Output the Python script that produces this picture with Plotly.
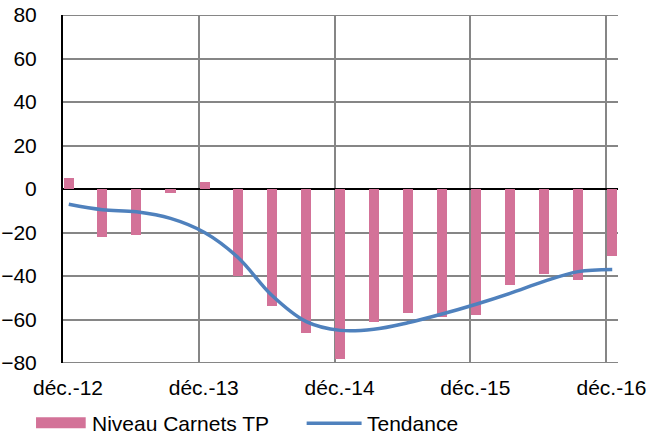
import plotly.graph_objects as go

# Quarterly observations (month of each quarter's last month)
periodes = ["2012-12-01", "2013-03-01", "2013-06-01", "2013-09-01",
            "2013-12-01", "2014-03-01", "2014-06-01", "2014-09-01",
            "2014-12-01", "2015-03-01", "2015-06-01", "2015-09-01",
            "2015-12-01", "2016-03-01", "2016-06-01", "2016-09-01",
            "2016-12-01"]
niveau_carnets_tp = [5, -22, -21, -2, 3, -40, -54, -66, -78, -61, -57, -59,
                     -58, -44, -39, -42, -31]
tendance = [-7, -9.5, -10.5, -13.5, -20, -31.5, -49, -61, -65, -64.5, -61.5,
            -57.5, -53, -48, -42.5, -38, -37]

x_ticks = ["2012-12-01", "2013-12-01", "2014-12-01", "2015-12-01", "2016-12-01"]
x_labels = ["déc.-12", "déc.-13", "déc.-14", "déc.-15", "déc.-16"]
y_ticks = [-80, -60, -40, -20, 0, 20, 40, 60, 80]
y_min, y_max = -80, 80

PINK = "#D37298"
BLUE = "#4F81BD"
GRID = "#868686"
FONT = "Liberation Sans, Arial, sans-serif"
DAY_MS = 86400000

fig = go.Figure()
fig.add_trace(go.Bar(
    x=periodes, y=niveau_carnets_tp, name="Niveau Carnets TP",
    xperiod="M1", xperiodalignment="middle",
    width=27 * DAY_MS, marker=dict(color=PINK, line=dict(width=0)),
))
fig.add_trace(go.Scatter(
    x=periodes, y=tendance, name="Tendance", mode="lines",
    xperiod="M1", xperiodalignment="middle",
    line=dict(color=BLUE, width=3.5, shape="spline", smoothing=1.0),
))

fig.update_layout(
    width=665, height=435,
    margin=dict(l=63, r=47, t=15, b=72),
    paper_bgcolor="white", plot_bgcolor="white",
    font=dict(family=FONT, size=21, color="black"),
    showlegend=False,
    bargap=0,
)
fig.update_xaxes(
    type="date", range=["2012-12-01", "2017-01-01"], automargin=False,
    tickvals=x_ticks, ticktext=x_labels, ticklabelshift=5,
    ticklabelstandoff=10,
    showgrid=True, gridcolor=GRID, gridwidth=1.8,
    showline=False, zeroline=False, ticks="",
)
fig.update_yaxes(
    range=[y_min, y_max], tickvals=y_ticks, automargin=False,
    showgrid=True, gridcolor=GRID, gridwidth=1.8,
    zeroline=True, zerolinecolor="black", zerolinewidth=2,
    showline=True, linecolor="black", linewidth=2,
    ticks="", ticklabelstandoff=20,
)

# Gridlines along the top and bottom edges of the plot area
for yv in (y_min, y_max):
    fig.add_shape(type="line", xref="paper", yref="y", layer="below",
                  x0=0, x1=1, y0=yv, y1=yv,
                  line=dict(color=GRID, width=1.8))

# Legend drawn beneath the plot area
fig.add_shape(type="rect", xref="paper", yref="paper",
              x0=-0.0486, x1=0.0409, y0=-0.1876, y1=-0.156,
              fillcolor=PINK, line=dict(width=0))
fig.add_annotation(text="Niveau Carnets TP", xref="paper", yref="paper",
                   x=0.049, y=-0.175, xanchor="left", yanchor="middle",
                   showarrow=False, font=dict(size=21))
fig.add_shape(type="line", xref="paper", yref="paper",
              x0=0.439, x1=0.538, y0=-0.173, y1=-0.173,
              line=dict(color=BLUE, width=3.5))
fig.add_annotation(text="Tendance", xref="paper", yref="paper",
                   x=0.545, y=-0.175, xanchor="left", yanchor="middle",
                   showarrow=False, font=dict(size=21))

fig.write_html("out.html")
